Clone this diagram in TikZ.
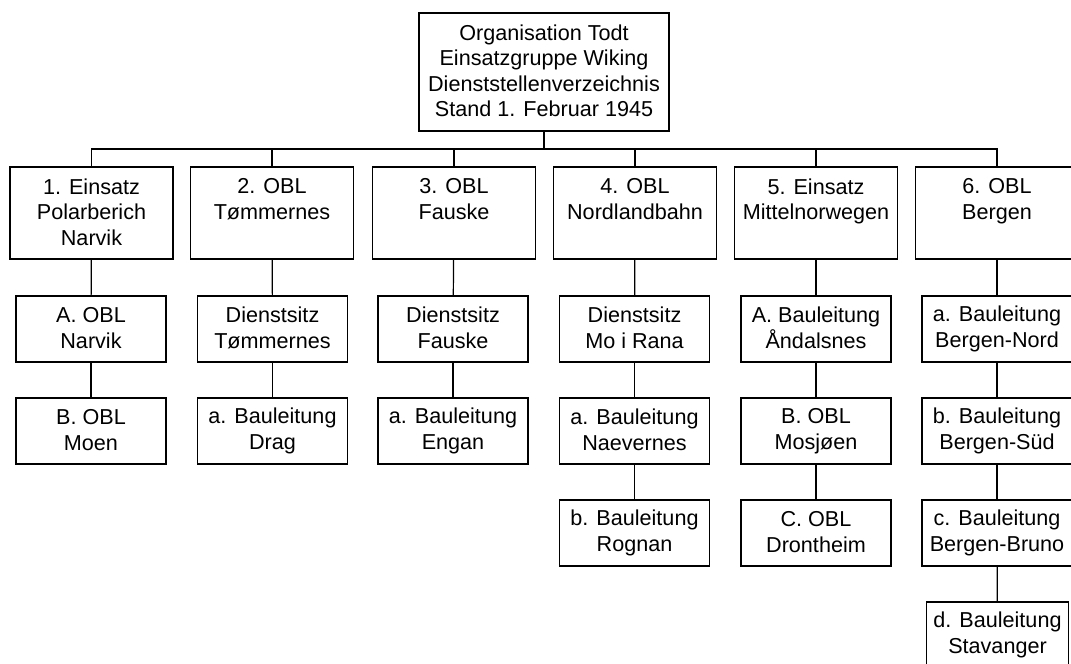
\documentclass[tikz,border=0pt]{standalone}
\usepackage{fontspec}
\setmainfont{Liberation Sans}
\newcommand{\boxstrut}{\rule[-2.4pt]{0pt}{20.4pt}}
\begin{document}
\begin{tikzpicture}[x=1pt,y=-1pt,
  box/.style={draw=black,line width=1.2pt,fill=white,inner sep=0pt,align=center,
    font=\fontsize{21.6}{25.5}\selectfont,
    execute at begin node=\boxstrut, execute at end node=\boxstrut},
  topbox/.style={box,minimum width=250pt,minimum height=118pt},
  lvlone/.style={box,minimum width=163pt,minimum height=92pt},
  sub/.style={box,minimum width=150pt,minimum height=66pt},
  link/.style={line width=1.2pt,draw=black}]
\useasboundingbox (0,0) rectangle (1071,664);
\fill[white] (0,0) rectangle (1071,664);
\clip (0,0) rectangle (1071,664);

\node[topbox] (top) at (544,72) {Organisation Todt\\Einsatzgruppe Wiking\\Dienststellenverzeichnis\\Stand 1. Februar 1945};
\coordinate (bus) at (544,149);

\node[lvlone] (c1) at (91.5,213) {1. Einsatz\\Polarberich\\Narvik};
\node[lvlone] (c2) at (272,213) {2. OBL\\Tømmernes\\~};
\node[lvlone] (c3) at (454,213) {3. OBL\\Fauske\\~};
\node[lvlone] (c4) at (635,213) {4. OBL\\Nordlandbahn\\~};
\node[lvlone] (c5) at (816,213) {5. Einsatz\\Mittelnorwegen\\~};
\node[lvlone] (c6) at (997,213) {6. OBL\\Bergen\\~};

\node[sub] (a1) at (91,329) {A. OBL\\Narvik};
\node[sub] (b1) at (91,431) {B. OBL\\Moen};

\node[sub] (a2) at (272.5,329) {Dienstsitz\\Tømmernes};
\node[sub] (b2) at (272.5,431) {a. Bauleitung\\Drag};

\node[sub] (a3) at (453,329) {Dienstsitz\\Fauske};
\node[sub] (b3) at (453,431) {a. Bauleitung\\Engan};

\node[sub] (a4) at (634.5,329) {Dienstsitz\\Mo i Rana};
\node[sub] (b4) at (634.5,431) {a. Bauleitung\\Naevernes};
\node[sub] (d4) at (634.5,533) {b. Bauleitung\\Rognan};

\node[sub] (a5) at (816,329) {A. Bauleitung\\Åndalsnes};
\node[sub] (b5) at (816,431) {B. OBL\\Mosjøen};
\node[sub] (d5) at (816,533) {C. OBL\\Drontheim};

\node[sub] (a6) at (997,329) {a. Bauleitung\\Bergen-Nord};
\node[sub] (b6) at (997,431) {b. Bauleitung\\Bergen-Süd};
\node[sub] (d6) at (997,533) {c. Bauleitung\\Bergen-Bruno};
\node[sub,minimum width=142pt] (e6) at (997.5,635) {d. Bauleitung\\Stavanger};

\draw[link] (top.south) -- (bus);
\foreach \c in {c1,c2,c3,c4,c5,c6} \draw[link] (bus) -| (\c.north);

\draw[link] (c1) -- (a1); \draw[link] (a1) -- (b1);
\draw[link] (c2) -- (a2); \draw[link] (a2) -- (b2);
\draw[link] (c3) -- (a3); \draw[link] (a3) -- (b3);
\draw[link] (c4) -- (a4); \draw[link] (a4) -- (b4); \draw[link] (b4) -- (d4);
\draw[link] (c5) -- (a5); \draw[link] (a5) -- (b5); \draw[link] (b5) -- (d5);
\draw[link] (c6) -- (a6); \draw[link] (a6) -- (b6); \draw[link] (b6) -- (d6); \draw[link] (d6) -- (e6);
\end{tikzpicture}
\end{document}
